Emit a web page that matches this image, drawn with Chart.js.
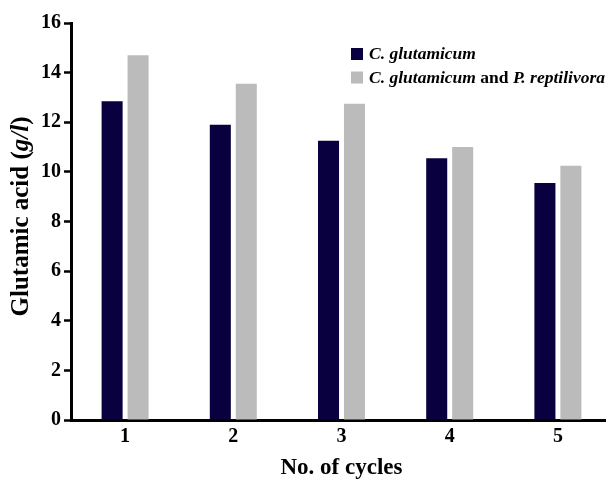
<!DOCTYPE html>
<html>
<head>
<meta charset="utf-8">
<script src="https://cdn.jsdelivr.net/npm/chart.js@4"></script>
<style>
html, body { margin: 0; padding: 0; background: #fff; overflow: hidden; }
#wrap { width: 606px; height: 480px; overflow: hidden; }
</style>
</head>
<body>
<div id="wrap"><canvas id="chart" width="620" height="480"></canvas></div>
<script>
// values (g/l)
const cycles = ['1', '2', '3', '4', '5'];
const cgOnly = [12.85, 11.9, 11.25, 10.55, 9.55];
const cgWithPr = [14.7, 13.55, 12.75, 11.0, 10.25];
const seriesNames = ['C. glutamicum', 'C. glutamicum and P. reptilivora'];
const seriesColors = ['#08003f', '#bbbbbb'];
const yTitleParts = [['Glutamic acid (', false], ['g/l', true], [')', false]];

const serif = '"Liberation Serif", "Times New Roman", serif';

// draws a run of [text, italic] pieces starting at x, returns end x
function drawRuns(ctx, runs, x, y, size) {
    runs.forEach(([txt, it]) => {
        ctx.font = (it ? 'italic ' : '') + 'bold ' + size + 'px ' + serif;
        ctx.fillText(txt, x, y);
        x += ctx.measureText(txt).width;
    });
    return x;
}

function runsWidth(ctx, runs, size) {
    let w = 0;
    runs.forEach(([txt, it]) => {
        ctx.font = (it ? 'italic ' : '') + 'bold ' + size + 'px ' + serif;
        w += ctx.measureText(txt).width;
    });
    return w;
}

// legend inside the plot + y title with italic units
const extras = {
    id: 'extras',
    afterDraw: chart => {
        const ctx = chart.ctx;
        const area = chart.chartArea;
        ctx.save();
        ctx.fillStyle = '#000';
        ctx.textBaseline = 'alphabetic';

        const x = area.left + 280;
        const y0 = area.top + 25;
        chart.data.datasets.forEach((ds, i) => {
            const y = y0 + i * 23.5;
            ctx.fillStyle = ds.backgroundColor;
            ctx.fillRect(x, y, 12, 12);
            ctx.fillStyle = '#000';
            const runs = [];
            ds.label.split(' and ').forEach((part, j) => {
                if (j > 0) runs.push([' and ', false]);
                runs.push([part, true]);
            });
            drawRuns(ctx, runs, x + 18, y + 11, 17.5);
        });

        // rotated y axis title
        const size = 25;
        const w = runsWidth(ctx, yTitleParts, size);
        ctx.translate(22, (area.top + area.bottom) / 2 - 5);
        ctx.rotate(-Math.PI / 2);
        ctx.textBaseline = 'middle';
        drawRuns(ctx, yTitleParts, -w / 2, 0, size);
        ctx.restore();
    }
};

const ctx = document.getElementById('chart').getContext('2d');
const chart = new Chart(ctx, {
    type: 'bar',
    plugins: [extras],
    data: {
        labels: cycles,
        datasets: [
            {
                label: seriesNames[0],
                data: cgOnly,
                backgroundColor: seriesColors[0],
                borderWidth: 0,
                categoryPercentage: 0.48,
                barPercentage: 0.81
            },
            {
                label: seriesNames[1],
                data: cgWithPr,
                backgroundColor: seriesColors[1],
                borderWidth: 0,
                categoryPercentage: 0.48,
                barPercentage: 0.81
            }
        ]
    },
    options: {
        responsive: false,
        animation: false,
        devicePixelRatio: 1,
        layout: { padding: { top: 23, right: 8, left: 0, bottom: 0 } },
        plugins: {
            legend: { display: false },
            title: { display: false },
            tooltip: { enabled: false }
        },
        scales: {
            x: {
                afterFit: scale => { scale.height = 60; },
                grid: { drawOnChartArea: false, drawTicks: false },
                border: { display: true, color: '#000', width: 3 },
                ticks: {
                    color: '#000',
                    padding: 5,
                    font: { family: serif, size: 20, weight: 'bold' }
                },
                title: {
                    display: true,
                    text: 'No. of cycles',
                    color: '#000',
                    padding: { top: 0, bottom: 0 },
                    font: { family: serif, size: 23, weight: 'bold', lineHeight: 1.0 }
                }
            },
            y: {
                min: 0,
                max: 16,
                afterFit: scale => { scale.width = 71; },
                grid: {
                    drawOnChartArea: false,
                    drawTicks: true,
                    tickLength: 7,
                    tickColor: '#000',
                    tickWidth: 2.5
                },
                border: { display: true, color: '#000', width: 3 },
                ticks: {
                    stepSize: 2,
                    color: '#000',
                    padding: 3,
                    font: { family: serif, size: 20, weight: 'bold' }
                }
            }
        }
    }
});
</script>
</body>
</html>
